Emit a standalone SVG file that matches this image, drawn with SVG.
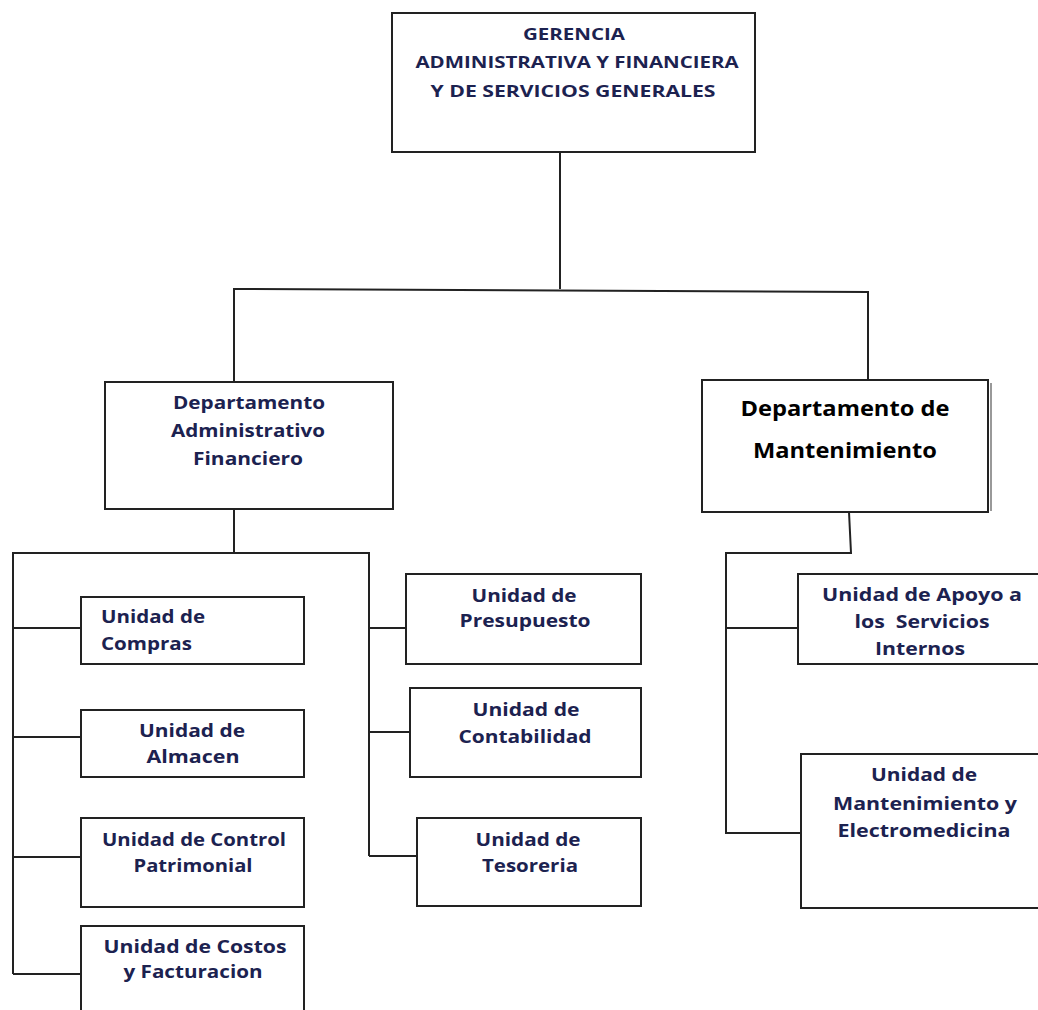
<svg xmlns="http://www.w3.org/2000/svg" width="1038" height="1010" viewBox="0 0 1038 1010">
  <style>
    .box { fill: #ffffff; stroke: #222222; stroke-width: 2; }
    .wire { fill: none; stroke: #222222; stroke-width: 2; }
    .t { font-family: "Open Sans", "Liberation Sans", sans-serif; font-weight: bold; font-size: 17px; fill: #1c2250; text-anchor: middle; }
    .head { font-size: 16px; }
    .tl { text-anchor: start; }
    .big { font-size: 21px; fill: #000000; }
  </style>
  <rect width="1038" height="1010" fill="#ffffff"/>

  <!-- connectors -->
  <g id="connectors">
    <path class="wire" d="M560,152 V289"/>
    <path class="wire" d="M234,382 V289 L868,292 V380"/>
    <path class="wire" d="M234,509 V553"/>
    <path class="wire" d="M13,974 V553 H369 V856"/>
    <path class="wire" d="M13,628 H81 M13,737 H81 M13,857 H81 M13,974 H81"/>
    <path class="wire" d="M369,628 H406 M369,732 H410 M369,856 H417"/>
    <path class="wire" d="M849,512 L851,553 H726 V833 H801 M726,628 H798"/>
  </g>

  <!-- top management -->
  <g id="gerencia">
    <rect class="box" x="392" y="13" width="363" height="139"/>
    <text class="t head" x="574" y="40" textLength="102" lengthAdjust="spacingAndGlyphs">GERENCIA</text>
    <text class="t head" x="577" y="68" textLength="323" lengthAdjust="spacingAndGlyphs">ADMINISTRATIVA Y FINANCIERA</text>
    <text class="t head" x="573" y="97" textLength="285" lengthAdjust="spacingAndGlyphs">Y DE SERVICIOS GENERALES</text>
  </g>

  <!-- departments -->
  <g id="dep-admin">
    <rect class="box" x="105" y="382" width="288" height="127"/>
    <text class="t" x="249" y="409" textLength="152" lengthAdjust="spacingAndGlyphs">Departamento</text>
    <text class="t" x="248" y="437" textLength="154" lengthAdjust="spacingAndGlyphs">Administrativo</text>
    <text class="t" x="248" y="465" textLength="110" lengthAdjust="spacingAndGlyphs">Financiero</text>
  </g>

  <g id="dep-mant">
    <line x1="991" y1="383" x2="991" y2="511" stroke="#555555" stroke-width="1.2"/>
    <rect class="box" x="702" y="380" width="286" height="132"/>
    <text class="t big" x="845" y="416" textLength="209" lengthAdjust="spacingAndGlyphs">Departamento de</text>
    <text class="t big" x="845" y="458" textLength="184" lengthAdjust="spacingAndGlyphs">Mantenimiento</text>
  </g>

  <!-- units under the administrative department, left column -->
  <g id="u-compras">
    <rect class="box" x="81" y="597" width="223" height="67"/>
    <text class="t tl" x="101" y="623" textLength="104" lengthAdjust="spacingAndGlyphs">Unidad de</text>
    <text class="t tl" x="101" y="650" textLength="91" lengthAdjust="spacingAndGlyphs">Compras</text>
  </g>

  <g id="u-almacen">
    <rect class="box" x="81" y="710" width="223" height="67"/>
    <text class="t" x="192" y="737" textLength="106" lengthAdjust="spacingAndGlyphs">Unidad de</text>
    <text class="t" x="193" y="763" textLength="93" lengthAdjust="spacingAndGlyphs">Almacen</text>
  </g>

  <g id="u-control">
    <rect class="box" x="81" y="818" width="223" height="89"/>
    <text class="t" x="194" y="846" textLength="184" lengthAdjust="spacingAndGlyphs">Unidad de Control</text>
    <text class="t" x="193" y="872" textLength="119" lengthAdjust="spacingAndGlyphs">Patrimonial</text>
  </g>

  <g id="u-costos">
    <rect class="box" x="81" y="926" width="223" height="100"/>
    <text class="t" x="195" y="953" textLength="183" lengthAdjust="spacingAndGlyphs">Unidad de Costos</text>
    <text class="t" x="193" y="978" textLength="139" lengthAdjust="spacingAndGlyphs">y Facturacion</text>
  </g>

  <!-- units under the administrative department, right column -->
  <g id="u-presupuesto">
    <rect class="box" x="406" y="574" width="235" height="90"/>
    <text class="t" x="524" y="602" textLength="105" lengthAdjust="spacingAndGlyphs">Unidad de</text>
    <text class="t" x="525" y="627" textLength="131" lengthAdjust="spacingAndGlyphs">Presupuesto</text>
  </g>

  <g id="u-contabilidad">
    <rect class="box" x="410" y="688" width="231" height="89"/>
    <text class="t" x="526" y="716" textLength="107" lengthAdjust="spacingAndGlyphs">Unidad de</text>
    <text class="t" x="525" y="743" textLength="133" lengthAdjust="spacingAndGlyphs">Contabilidad</text>
  </g>

  <g id="u-tesoreria">
    <rect class="box" x="417" y="818" width="224" height="88"/>
    <text class="t" x="528" y="846" textLength="105" lengthAdjust="spacingAndGlyphs">Unidad de</text>
    <text class="t" x="530" y="872" textLength="96" lengthAdjust="spacingAndGlyphs">Tesoreria</text>
  </g>

  <!-- units under the maintenance department -->
  <g id="u-apoyo">
    <rect class="box" x="798" y="574" width="250" height="90"/>
    <text class="t" x="922" y="601" textLength="200" lengthAdjust="spacingAndGlyphs">Unidad de Apoyo a</text>
    <text class="t" x="922" y="628" textLength="135" lengthAdjust="spacingAndGlyphs" xml:space="preserve">los  Servicios</text>
    <text class="t" x="920" y="655" textLength="90" lengthAdjust="spacingAndGlyphs">Internos</text>
  </g>

  <g id="u-electro">
    <rect class="box" x="801" y="754" width="250" height="154"/>
    <text class="t" x="924" y="781" textLength="106" lengthAdjust="spacingAndGlyphs">Unidad de</text>
    <text class="t" x="925" y="810" textLength="184" lengthAdjust="spacingAndGlyphs">Mantenimiento y</text>
    <text class="t" x="924" y="837" textLength="173" lengthAdjust="spacingAndGlyphs">Electromedicina</text>
  </g>
</svg>
